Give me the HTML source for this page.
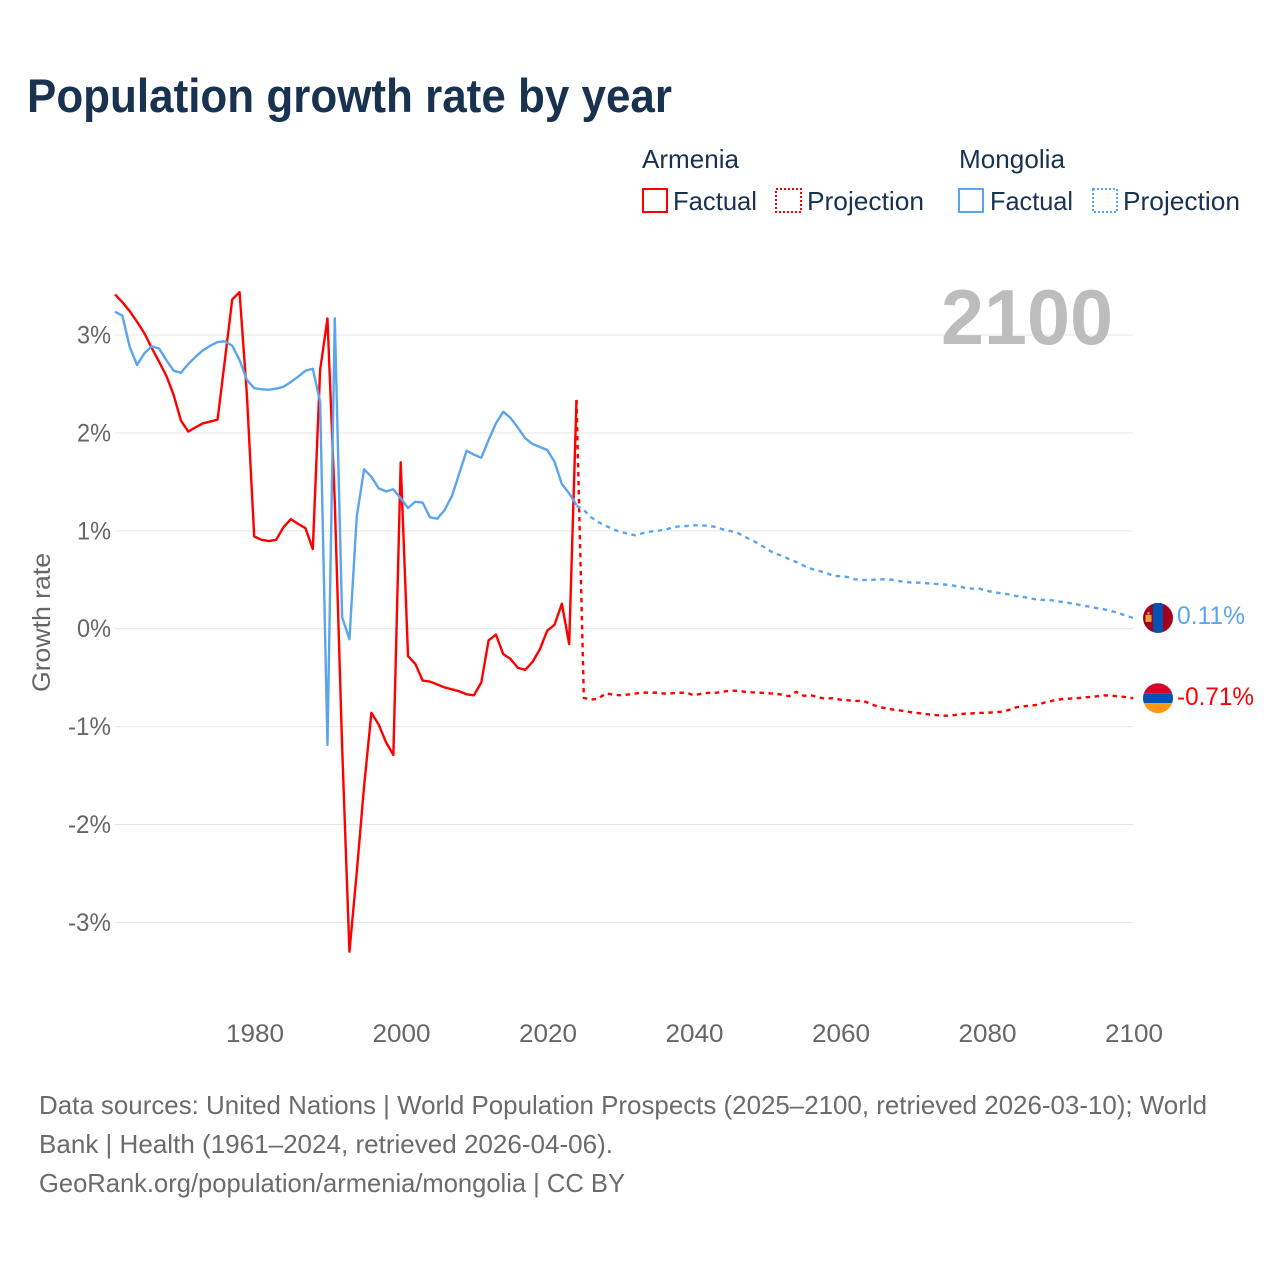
<!DOCTYPE html>
<html lang="en">
<head>
<meta charset="utf-8">
<title>Population growth rate by year</title>
<style>
html,body{margin:0;padding:0;background:#fff}
svg{display:block}
text{font-family:"Liberation Sans",sans-serif}
</style>
</head>
<body>
<svg id="chart" xmlns="http://www.w3.org/2000/svg" width="1280" height="1280" viewBox="0 0 1280 1280">
  <rect x="0" y="0" width="1280" height="1280" fill="#fff"/>
  <text x="27" y="112" font-size="47" font-weight="700" fill="#18324f" textLength="645" lengthAdjust="spacingAndGlyphs">Population growth rate by year</text>

  <g font-size="26" fill="#18324f">
    <text x="642" y="168" textLength="97" lengthAdjust="spacingAndGlyphs">Armenia</text>
    <rect x="643" y="189" width="24" height="23" fill="none" stroke="#ff0000" stroke-width="2"/>
    <text x="673" y="210" textLength="84" lengthAdjust="spacingAndGlyphs">Factual</text>
    <rect x="776" y="189" width="25" height="23" fill="none" stroke="#ff0000" stroke-width="2" stroke-dasharray="2 2"/>
    <text x="807" y="210" textLength="117" lengthAdjust="spacingAndGlyphs">Projection</text>
    <text x="959" y="168" textLength="106" lengthAdjust="spacingAndGlyphs">Mongolia</text>
    <rect x="959" y="189" width="24" height="23" fill="none" stroke="#5ba5ee" stroke-width="2"/>
    <text x="990" y="210" textLength="83" lengthAdjust="spacingAndGlyphs">Factual</text>
    <rect x="1093" y="189" width="24" height="23" fill="none" stroke="#5ba5ee" stroke-width="2" stroke-dasharray="2 2"/>
    <text x="1123" y="210" textLength="117" lengthAdjust="spacingAndGlyphs">Projection</text>
  </g>

  <g id="grid"></g>
  <text x="941" y="344" font-size="78" font-weight="700" fill="#bdbdbd" textLength="172" lengthAdjust="spacingAndGlyphs">2100</text>
  <g id="yticks" font-size="25" fill="#666"></g>
  <g id="xticks" font-size="25" fill="#666"></g>
  <text transform="translate(50,692) rotate(-90)" font-size="25" fill="#666" textLength="139" lengthAdjust="spacingAndGlyphs">Growth rate</text>

  <g id="series" fill="none" stroke-width="2.4" stroke-linejoin="round"></g>

  <defs>
    <clipPath id="clip-mn"><circle id="clip-mn-c" cx="1158" cy="618" r="15"/></clipPath>
    <clipPath id="clip-am"><circle id="clip-am-c" cx="1158" cy="698" r="15"/></clipPath>
  </defs>
  <g id="flag-mn" clip-path="url(#clip-mn)"></g>
  <g id="flag-am" clip-path="url(#clip-am)"></g>
  <text id="label-mn" x="1177" font-size="25" fill="#5ba5ee" textLength="68" lengthAdjust="spacingAndGlyphs"></text>
  <text id="label-am" x="1177" font-size="25" fill="#ff0000" textLength="77" lengthAdjust="spacingAndGlyphs"></text>

  <g font-size="26" fill="#6b6b6b">
    <text x="39" y="1114" textLength="1168" lengthAdjust="spacingAndGlyphs">Data sources: United Nations | World Population Prospects (2025–2100, retrieved 2026-03-10); World</text>
    <text x="39" y="1153" textLength="574" lengthAdjust="spacingAndGlyphs">Bank | Health (1961–2024, retrieved 2026-04-06).</text>
    <text x="39" y="1192" textLength="586" lengthAdjust="spacingAndGlyphs">GeoRank.org/population/armenia/mongolia | CC BY</text>
  </g>
</svg>

<script>
const yTickValues = [3, 2, 1, 0, -1, -2, -3];
const xTickYears = [1980, 2000, 2020, 2040, 2060, 2080, 2100];
const factualStartYear = 1961;
const projectionStartYear = 2024;

const armeniaFactual = [
  3.415,3.336,3.245,3.136,3.02,2.87,2.73,2.585,2.388,2.126,
  2.014,2.058,2.098,2.116,2.136,2.745,3.364,3.439,2.39,0.942,
  0.908,0.895,0.908,1.037,1.119,1.071,1.027,0.813,2.643,3.17,
  1.3,-1.2,-3.3,-2.49,-1.61,-0.86,-0.98,-1.16,-1.29,1.70,
  -0.28,-0.36,-0.53,-0.54,-0.57,-0.6,-0.62,-0.64,-0.67,-0.68,
  -0.55,-0.12,-0.06,-0.26,-0.31,-0.40,-0.42,-0.34,-0.21,-0.02,
  0.04,0.255,-0.156,2.337
];
const armeniaProjection = [
  2.337,-0.707,-0.725,-0.714,-0.66,-0.673,-0.68,
  -0.673,-0.663,-0.653,-0.653,-0.653,-0.663,-0.66,-0.655,-0.653,-0.68,
  -0.665,-0.655,-0.655,-0.645,-0.632,-0.635,-0.645,-0.65,-0.653,-0.66,
  -0.663,-0.673,-0.69,-0.645,-0.685,-0.68,-0.70,-0.715,-0.71,-0.725,
  -0.73,-0.74,-0.735,-0.762,-0.793,-0.81,-0.824,-0.834,-0.844,-0.858,
  -0.865,-0.875,-0.882,-0.889,-0.889,-0.878,-0.868,-0.865,-0.861,-0.858,
  -0.855,-0.848,-0.831,-0.803,-0.793,-0.786,-0.776,-0.752,-0.735,-0.722,
  -0.715,-0.712,-0.705,-0.698,-0.691,-0.681,-0.684,-0.691,-0.698,-0.71
];
const mongoliaFactual = [
  3.239,3.198,2.881,2.694,2.813,2.885,2.864,2.745,2.636,2.615,
  2.704,2.779,2.844,2.891,2.929,2.936,2.891,2.745,2.541,2.459,
  2.446,2.442,2.452,2.472,2.52,2.575,2.636,2.656,2.319,-1.188,
  3.171,0.12,-0.108,1.144,1.628,1.553,1.434,1.403,1.424,1.332,
  1.233,1.298,1.287,1.138,1.124,1.213,1.356,1.588,1.819,1.778,
  1.747,1.928,2.098,2.217,2.153,2.054,1.945,1.887,1.856,1.826,
  1.706,1.478,1.383,1.264
];
const mongoliaProjection = [
  1.257,1.213,1.138,1.087,1.052,1.015,0.988,
  0.971,0.954,0.975,0.991,1.001,1.008,1.032,1.046,1.049,1.056,
  1.056,1.052,1.039,1.015,0.998,0.978,0.937,0.903,0.862,0.814,
  0.77,0.746,0.712,0.681,0.644,0.613,0.593,0.572,0.541,0.535,
  0.528,0.505,0.498,0.498,0.501,0.505,0.501,0.487,0.477,0.470,
  0.470,0.463,0.457,0.453,0.446,0.433,0.419,0.409,0.409,0.388,
  0.372,0.361,0.351,0.334,0.324,0.31,0.296,0.293,0.29,0.276,
  0.266,0.252,0.239,0.225,0.211,0.198,0.181,0.16,0.133,0.11
];

const NS = 'http://www.w3.org/2000/svg';
function xScale(year) { return 254.2 + (year - 1980) * 7.325; }
function yScale(v) { return 628.7 - 97.88 * v; }
function pathFor(values, startYear) {
  return values.map(function (v, i) {
    return (i ? 'L' : 'M') + xScale(startYear + i).toFixed(2) + ' ' + yScale(v).toFixed(2);
  }).join(' ');
}
function fmt(v) { return v + '%'; }

const gridG = document.getElementById('grid');
const yG = document.getElementById('yticks');
yTickValues.forEach(function (v) {
  const ln = document.createElementNS(NS, 'line');
  
  
  ln.setAttribute('x1', 115);
  ln.setAttribute('x2', 1133);
  ln.setAttribute('y1', yScale(v));
  ln.setAttribute('y2', yScale(v));
  ln.setAttribute('stroke', '#e6e6e6');
  ln.setAttribute('stroke-width', 1);
  gridG.appendChild(ln);

  const t = document.createElementNS(NS, 'text');
  
  
  const w = v < 0 ? 43 : 34;
  t.setAttribute('x', 111 - w);
  t.setAttribute('y', yScale(v) + 8.5);
  t.setAttribute('textLength', w);
  t.setAttribute('lengthAdjust', 'spacingAndGlyphs');
  t.textContent = fmt(v);
  yG.appendChild(t);
});

const xG = document.getElementById('xticks');
xTickYears.forEach(function (yr) {
  const t = document.createElementNS(NS, 'text');
  
  
  t.setAttribute('x', xScale(yr) - 28.2);
  t.setAttribute('y', 1042);
  t.setAttribute('textLength', 58);
  t.setAttribute('lengthAdjust', 'spacingAndGlyphs');
  t.textContent = String(yr);
  xG.appendChild(t);
});

const seriesG = document.getElementById('series');

const armeniaProjLine = document.createElementNS(NS, 'path');


armeniaProjLine.setAttribute('d', pathFor(armeniaProjection, projectionStartYear));
armeniaProjLine.setAttribute('stroke', '#ff0000');
armeniaProjLine.setAttribute('stroke-dasharray', '4.5 4.5');
seriesG.appendChild(armeniaProjLine);

const armeniaLine = document.createElementNS(NS, 'path');


armeniaLine.setAttribute('d', pathFor(armeniaFactual, factualStartYear));
armeniaLine.setAttribute('stroke', '#ff0000');
seriesG.appendChild(armeniaLine);

const mongoliaProjLine = document.createElementNS(NS, 'path');


mongoliaProjLine.setAttribute('d', pathFor(mongoliaProjection, projectionStartYear));
mongoliaProjLine.setAttribute('stroke', '#5ba5ee');
mongoliaProjLine.setAttribute('stroke-dasharray', '4.5 4.5');
seriesG.appendChild(mongoliaProjLine);

const mongoliaLine = document.createElementNS(NS, 'path');


mongoliaLine.setAttribute('d', pathFor(mongoliaFactual, factualStartYear));
mongoliaLine.setAttribute('stroke', '#5ba5ee');
seriesG.appendChild(mongoliaLine);

function addRect(parent, x, y, w, h, fill) {
  const r = document.createElementNS(NS, 'rect');
  r.setAttribute('x', x);
  r.setAttribute('y', y);
  r.setAttribute('width', w);
  r.setAttribute('height', h);
  r.setAttribute('fill', fill);
  parent.appendChild(r);
}

const mnLast = mongoliaProjection[mongoliaProjection.length - 1];
const amLast = armeniaProjection[armeniaProjection.length - 1];
const mnY = yScale(mnLast);
const amY = yScale(amLast);
document.getElementById('clip-mn-c').setAttribute('cy', mnY);
document.getElementById('clip-am-c').setAttribute('cy', amY);

const flagMn = document.getElementById('flag-mn');
addRect(flagMn, 1143, mnY - 15, 30, 30, '#a2001d');
addRect(flagMn, 1153, mnY - 15, 10, 30, '#0052b4');
addRect(flagMn, 1145.5, mnY - 3, 6, 7, '#e8a13c');
addRect(flagMn, 1147.5, mnY - 6, 2, 2.5, '#e8a13c');

const flagAm = document.getElementById('flag-am');
addRect(flagAm, 1143, amY - 15, 30, 10, '#d80027');
addRect(flagAm, 1143, amY - 5, 30, 10, '#0052b4');
addRect(flagAm, 1143, amY + 5, 30, 10, '#ff9811');

const labelMn = document.getElementById('label-mn');
labelMn.setAttribute('y', mnY + 6);
labelMn.textContent = fmt(mnLast);
const labelAm = document.getElementById('label-am');
labelAm.setAttribute('y', amY + 7);
labelAm.textContent = fmt(amLast);
</script>
</body>
</html>
